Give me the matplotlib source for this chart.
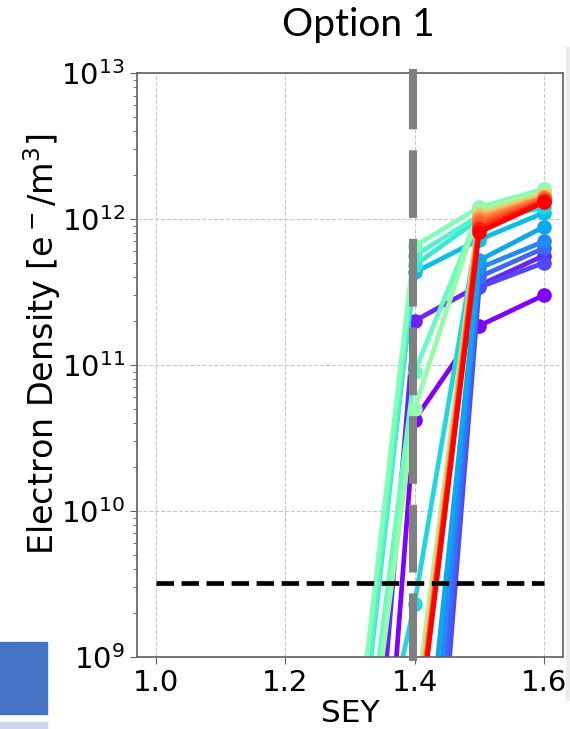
import numpy as np
import matplotlib
matplotlib.use('Agg')
import matplotlib.pyplot as plt
from matplotlib.patches import Rectangle

plt.rcParams['font.family'] = 'DejaVu Sans'
plt.rcParams['mathtext.fontset'] = 'dejavusans'

# SEY scan, one curve per case
sey = [1.0, 1.1, 1.2, 1.3, 1.4, 1.5, 1.6]
density = [
    [1e3, 3e3, 1e4, 7e4, 4.2e10, 1.85e11, 3.0e11],
    [2e3, 8e3, 5e4, 9e5, 2.0e11, 3.5e11, 5.6e11],
    [1e3, 4e3, 2e4, 1e5, 1e6, 3.4e11, 5.0e11],
    [2e3, 6e3, 3e4, 2e5, 3e6, 4.0e11, 6.3e11],
    [3e3, 9e3, 5e4, 4e5, 1e7, 4.6e11, 7.0e11],
    [4e3, 1e4, 8e4, 8e5, 3e7, 5.2e11, 8.8e11],
    [5e3, 2e4, 1e5, 8e7, 4.3e11, 7.2e11, 1.1e12],
    [5e3, 2e4, 1e5, 2.3e7, 2.3e9, 9.5e11, 1.2e12],
    [6e3, 3e4, 2e5, 5e7, 4.8e11, 1.0e12, 1.35e12],
    [6e3, 3e4, 2e5, 6e7, 5.6e11, 1.05e12, 1.4e12],
    [7e3, 4e4, 3e5, 2.5e7, 8.9e10, 1.1e12, 1.5e12],
    [7e3, 4e4, 3e5, 1e8, 6.5e11, 1.2e12, 1.6e12],
    [8e3, 5e4, 4e5, 2e7, 5.0e10, 1.15e12, 1.55e12],
    [8e3, 5e4, 4e5, 3e6, 4e8, 1.12e12, 1.5e12],
    [8e3, 5e4, 4e5, 3e6, 3e8, 1.1e12, 1.48e12],
    [8e3, 5e4, 4e5, 3e6, 3e8, 1.08e12, 1.46e12],
    [8e3, 5e4, 4e5, 3e6, 2.5e8, 1.05e12, 1.44e12],
    [8e3, 5e4, 4e5, 3e6, 2.5e8, 1.02e12, 1.42e12],
    [8e3, 5e4, 4e5, 3e6, 2.2e8, 1.0e12, 1.4e12],
    [8e3, 5e4, 4e5, 3e6, 2.2e8, 9.5e11, 1.38e12],
    [8e3, 5e4, 4e5, 3e6, 2e8, 9.0e11, 1.35e12],
    [8e3, 5e4, 4e5, 3e6, 2e8, 8.5e11, 1.32e12],
    [8e3, 5e4, 4e5, 3e6, 1.9e8, 8.1e11, 1.3e12],
]
threshold_sey = 1.397
threshold_density = 3.2e9

fig = plt.figure(figsize=(5.7, 7.29), dpi=100)
ax = fig.add_axes([0.240, 0.099, 0.748, 0.801])

colors = plt.cm.rainbow(np.linspace(0, 1, len(density)))
for row, c in zip(density, colors):
    ax.plot(sey, row, '-o', color=c, lw=3.4, ms=9.5)

ax.axvline(threshold_sey, color='gray', lw=5.8, dashes=(7.4, 3.6),
           dash_capstyle='projecting', clip_on=False, zorder=5)
ax.plot([sey[0], sey[-1]], [threshold_density] * 2, 'k--', lw=3.4, zorder=6)

ax.set_yscale('log')
ax.set_ylim(1e9, 1e13)
ax.set_xlim(0.97, 1.63)
ax.set_xticks([1.0, 1.2, 1.4, 1.6])
ax.grid(True, which='major', ls='--', color='#c8c8c8', lw=0.8)
ax.set_axisbelow(True)

for s in ax.spines.values():
    s.set_color('#606060')
    s.set_linewidth(1.2)
ax.tick_params(which='major', labelsize=21, length=5, color='#606060')
ax.tick_params(which='minor', length=3, color='#606060')
ax.tick_params(axis='x', which='minor', bottom=False)

ax.set_xlabel('SEY', fontsize=22.5, labelpad=2)
ax.set_ylabel('Electron Density [e$^-$/m$^3$]', fontsize=24)
ax.yaxis.set_label_coords(-0.172, 0.535)

fig.text(0.628, 0.99, 'Option 1', ha='center', va='top', fontsize=28, family='Lato')

# slide fragments around the chart
fig.patches.append(Rectangle((0, 1 - 714 / 729), 47 / 570, 72 / 729,
                             transform=fig.transFigure, color='#4472C4'))
fig.patches.append(Rectangle((0, 0), 47 / 570, 7 / 729,
                             transform=fig.transFigure, color='#CFD5EA'))
fig.patches.append(Rectangle((566 / 570, 1 - 700 / 729), 4 / 570, 653 / 729,
                             transform=fig.transFigure, color='#ececec'))

fig.savefig('out.png', dpi=100)
plt.close(fig)
